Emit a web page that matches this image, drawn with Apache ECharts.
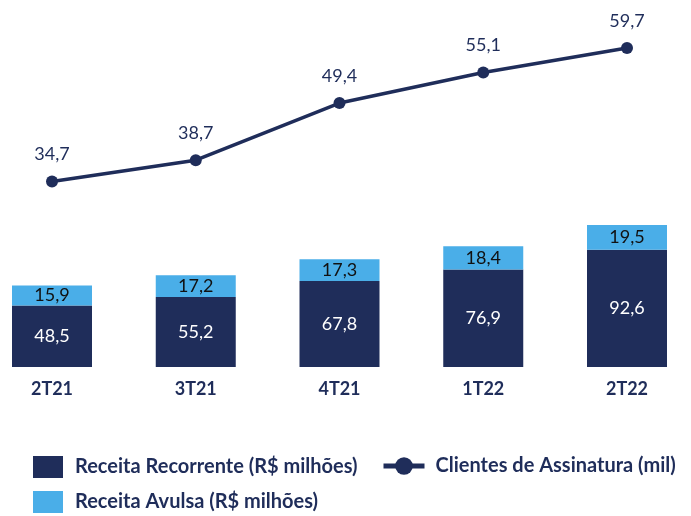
<!DOCTYPE html>
<html>
<head>
<meta charset="utf-8">
<script src="https://cdn.jsdelivr.net/npm/echarts@6/dist/echarts.min.js"></script>
<style>
  html, body { margin: 0; padding: 0; background: #fff; }
  #chart { width: 691px; height: 516px; }
</style>
</head>
<body>
<div id="chart"></div>
<script>
// Quarterly revenue (stacked bars) and subscription customers (line)
const periods = ['2T21', '3T21', '4T21', '1T22', '2T22'];
const receitaRecorrente = [48.5, 55.2, 67.8, 76.9, 92.6];
const receitaAvulsa = [15.9, 17.2, 17.3, 18.4, 19.5];
const clientesAssinatura = [34.7, 38.7, 49.4, 55.1, 59.7];

const NAVY = '#1f2d5a';
const LIGHT = '#4aaee8';
const FONT = 'Lato';

const fmt = v => v.toFixed(1).replace('.', ',');

const chart = echarts.init(document.getElementById('chart'), null, { renderer: 'canvas' });

chart.setOption({
  animation: false,
  textStyle: { fontFamily: FONT },
  grid: { left: 52, right: 64, top: 25, bottom: 149, containLabel: false },
  legend: [
    {
      orient: 'vertical',
      left: 33,
      top: 456,
      padding: 0,
      itemWidth: 30,
      itemHeight: 22,
      itemGap: 13,
      icon: 'rect',
      textStyle: { color: NAVY, fontSize: 20, fontWeight: 'bold', fontFamily: FONT, padding: [0, 0, 0, 7] },
      data: ['Receita Recorrente (R$ milhões)', 'Receita Avulsa (R$ milhões)']
    },
    {
      left: 381,
      top: 456,
      padding: 0,
      itemWidth: 41,
      itemHeight: 22,
      textStyle: { color: NAVY, fontSize: 20, fontWeight: 'bold', fontFamily: FONT, padding: [0, 0, 0, 6] },
      data: [{
        name: 'Clientes de Assinatura (mil)',
        itemStyle: { borderWidth: 0 },
        lineStyle: { width: 5 }
      }]
    }
  ],
  xAxis: {
    type: 'category',
    data: periods,
    boundaryGap: false,
    axisLine: { show: false },
    axisTick: { show: false },
    axisLabel: { color: NAVY, fontWeight: 'bold', fontSize: 18, margin: 13, fontFamily: FONT }
  },
  yAxis: [
    { type: 'value', min: 0, max: 270, show: false, splitLine: { show: false } },
    { type: 'value', min: 0, max: 64, show: false, splitLine: { show: false } }
  ],
  series: [
    {
      name: 'Receita Recorrente (R$ milhões)',
      type: 'bar',
      stack: 'receita',
      yAxisIndex: 0,
      barWidth: 80,
      clip: false,
      data: receitaRecorrente,
      itemStyle: { color: NAVY },
      label: {
        show: true,
        position: 'inside',
        color: '#ffffff',
        fontSize: 18,
        fontFamily: FONT,
        formatter: p => fmt(p.value)
      }
    },
    {
      name: 'Receita Avulsa (R$ milhões)',
      type: 'bar',
      stack: 'receita',
      yAxisIndex: 0,
      barWidth: 80,
      clip: false,
      data: receitaAvulsa,
      itemStyle: { color: LIGHT },
      label: {
        show: true,
        position: 'inside',
        color: '#111111',
        fontSize: 18,
        fontFamily: FONT,
        formatter: p => fmt(p.value)
      }
    },
    {
      name: 'Clientes de Assinatura (mil)',
      type: 'line',
      yAxisIndex: 1,
      data: clientesAssinatura,
      symbol: 'circle',
      symbolSize: 12,
      clip: false,
      lineStyle: { color: NAVY, width: 3.5 },
      itemStyle: { color: NAVY },
      label: {
        show: true,
        position: 'top',
        distance: 12,
        color: NAVY,
        fontSize: 18,
        fontFamily: FONT,
        formatter: p => fmt(p.value)
      }
    }
  ]
});
</script>
</body>
</html>
